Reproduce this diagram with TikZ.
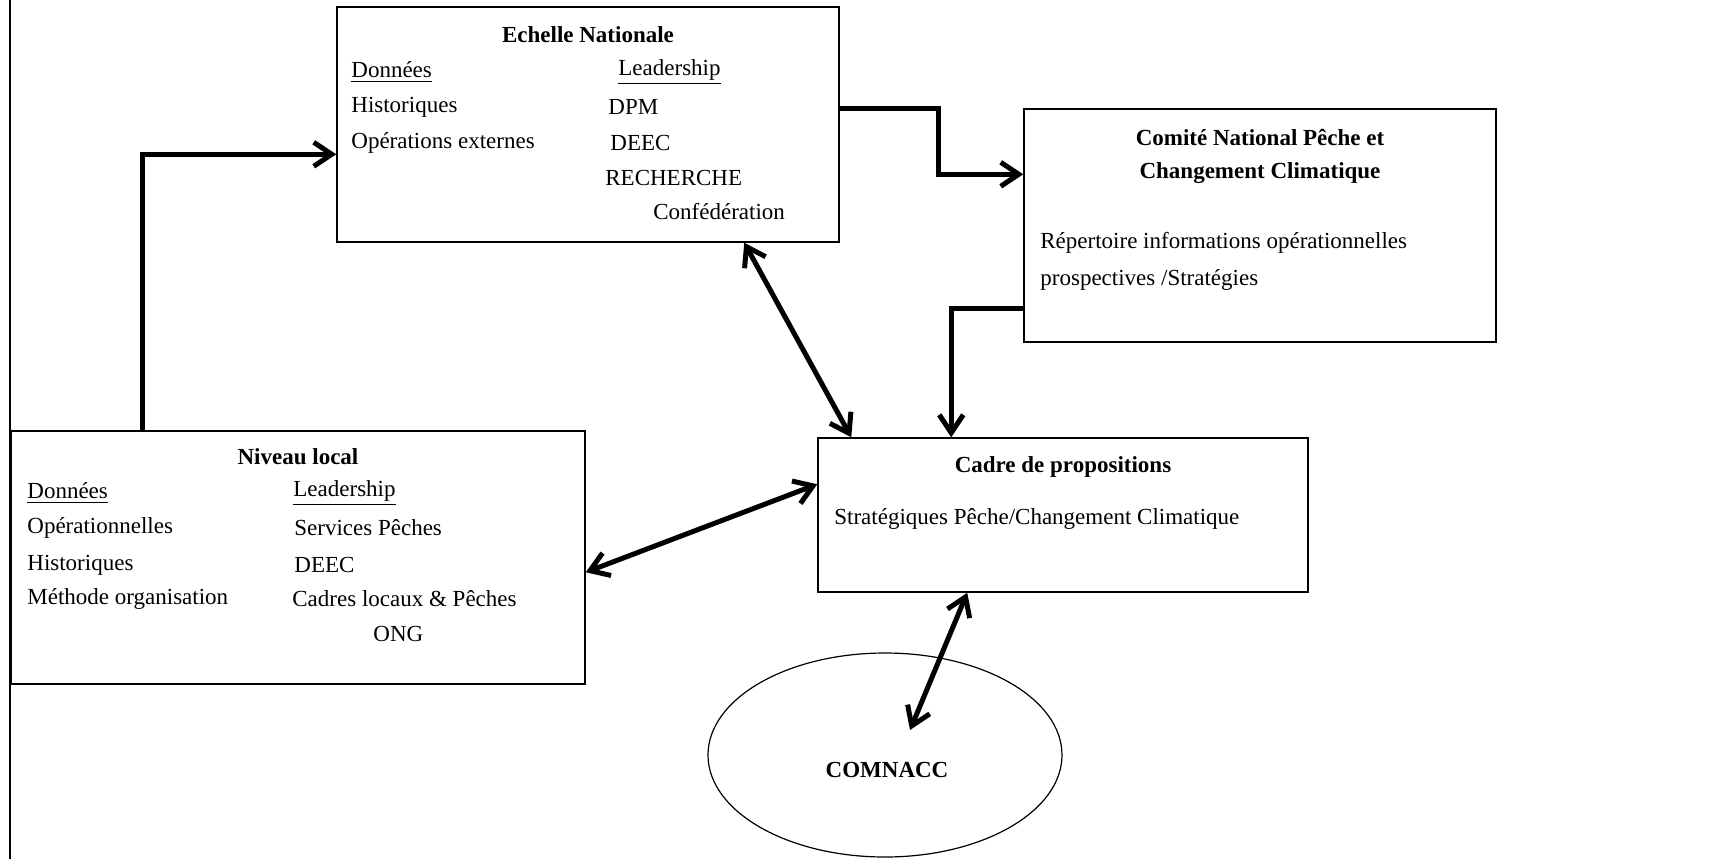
\documentclass[tikz,border=0pt]{standalone}
\usepackage{fontspec}
\setmainfont{Liberation Serif}
\usetikzlibrary{arrows.meta,calc,shapes.geometric}
\newcommand{\taille}{\fontsize{11.5}{13}\selectfont}
\tikzset{
  boite/.style={draw, line width=0.75pt, rectangle, inner sep=0pt},
  ligne/.style={inner sep=0pt, anchor=west},
  titre/.style={inner sep=0pt, font=\taille\bfseries},
  lien/.style={line width=2.5pt, -{Straight Barb[length=9pt,width=12pt]}},
  liens/.style={line width=2.5pt, {Straight Barb[length=9pt,width=12pt]}-{Straight Barb[length=9pt,width=12pt]}},
}

\begin{document}
\begin{tikzpicture}[x=0.5pt, y=-0.5pt, font=\taille]
 \useasboundingbox (0,0) rectangle (1731,859);
 \draw[line width=1pt] (9.5,0) -- (9.5,859);

 % boxes
 \node[boite, minimum width=251pt, minimum height=117.5pt] (nat) at (588,124.5) {};
 \node[boite, minimum width=236pt, minimum height=116.5pt] (com) at (1260,225.5) {};
 \node[boite, minimum width=287pt, minimum height=126.5pt] (loc) at (298,557.5) {};
 \node[boite, minimum width=245pt, minimum height=77pt] (cad) at (1063,515) {};
 \node[draw, ellipse, line width=0.6pt, inner sep=0pt,
       minimum width=177pt, minimum height=102pt] (comn) at (885,755) {};

 % Echelle Nationale
 \node[titre] (nat-t) at (588,35) {Echelle Nationale};
 \node[ligne] (nat-d) at (351,72) {\underline{Données}};
 \node[ligne] (nat-l) at (618,72) {\underline{Leadership}};
 \node[ligne] (nat-d1) at (351,107) {Historiques};
 \node[ligne] (nat-d2) at (351,143) {Opérations externes};
 \node[ligne] (nat-l1) at (608,107) {DPM};
 \node[ligne] (nat-l2) at (610,143) {DEEC};
 \node[ligne] (nat-l3) at (605,178) {RECHERCHE};
 \node[ligne] (nat-l4) at (653,212) {Confédération};

 % Comite
 \node[titre] (com-t1) at (1260,137) {Comité National Pêche et};
 \node[titre] (com-t2) at (1260,173) {Changement Climatique};
 \node[ligne] (com-1) at (1040,243) {Répertoire informations opérationnelles};
 \node[ligne] (com-2) at (1040,280) {prospectives /Stratégies};

 % Niveau local
 \node[titre] (loc-t) at (298,457) {Niveau local};
 \node[ligne] (loc-d) at (27,493) {\underline{Données}};
 \node[ligne] (loc-l) at (293,493) {\underline{Leadership}};
 \node[ligne] (loc-d1) at (27,528) {Opérationnelles};
 \node[ligne] (loc-d2) at (27,565) {Historiques};
 \node[ligne] (loc-d3) at (27,599) {Méthode organisation};
 \node[ligne] (loc-l1) at (294,528) {Services Pêches};
 \node[ligne] (loc-l2) at (294,565) {DEEC};
 \node[ligne] (loc-l3) at (292,599) {Cadres locaux \& Pêches};
 \node[ligne] (loc-l4) at (373,634) {ONG};

 % Cadre de propositions
 \node[titre] (cad-t) at (1063,467) {Cadre de propositions};
 \node[ligne] (cad-1) at (834,519) {Stratégiques Pêche/Changement Climatique};

 \node[titre] (comn-t) at (887,770) {COMNACC};

 % connectors
 \draw[lien] ($(loc.north west)+(132,0)$) |- ($(nat.north west)+(0,148)$);
 \draw[lien] ($(nat.north east)+(0,102)$) -- ++(99,0) |- ($(com.north west)+(0,66)$);
 \draw[lien] ($(com.north west)+(0,200)$) -| ($(cad.north west)+(134,0)$);
 \draw[liens] ($(nat.south west)+(408,0)$) -- ($(cad.north west)+(34,0)$);
 \draw[liens] ($(loc.north east)+(0,142)$) -- ($(cad.north west)+(0,47)$);
 \coordinate (bout) at ($(comn.center)+(25,-25)$);
 \draw[liens] ($(cad.south west)+(150,0)$) -- (bout);

\end{tikzpicture}
\end{document}
